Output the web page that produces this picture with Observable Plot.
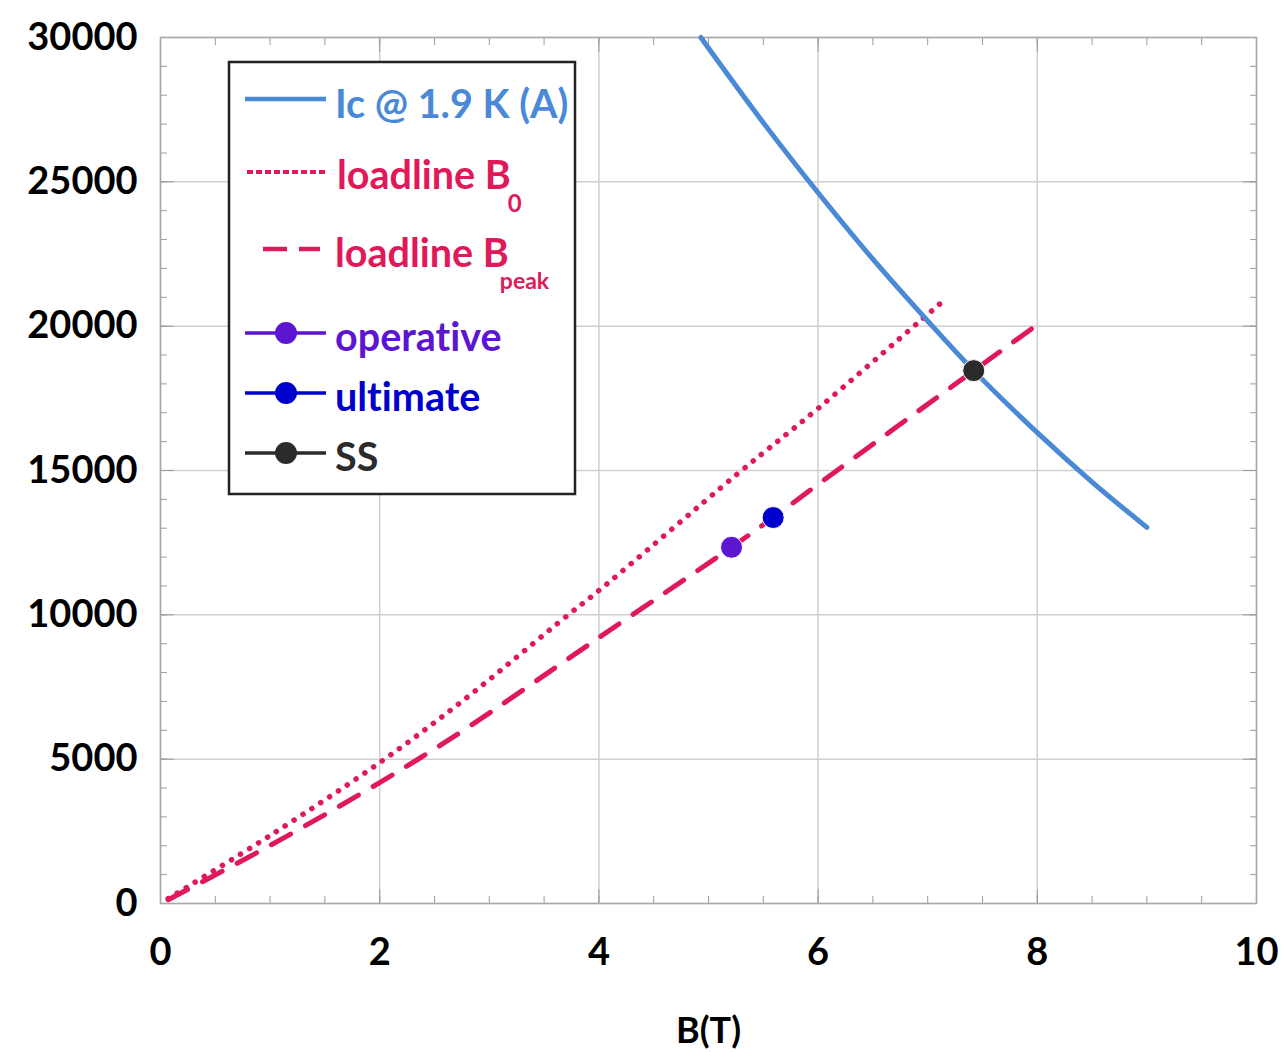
<!DOCTYPE html>
<html><head><meta charset="utf-8">
<script src="https://cdn.jsdelivr.net/npm/d3@7"></script>
<script src="https://cdn.jsdelivr.net/npm/@observablehq/plot@0.6"></script>
<style>
body{margin:0;background:#fff;font-family:Lato,"Open Sans",sans-serif;}
#wrap{position:relative;width:1285px;height:1053px;}
#legend{position:absolute;left:0;top:0;pointer-events:none;font-variant-ligatures:none;font-feature-settings:"liga" 0,"clig" 0;}
</style></head><body><div id="wrap"></div>
<script>
// Ic @ 1.9 K (A)
const icB = [4.93, 5.5, 6.0, 6.5, 7.0, 7.42, 8.0, 8.5, 9.0];
const icI = [30000, 27050, 24620, 22320, 20180, 18460, 16310, 14600, 13030];
// loadline B0 (dotted)
const b0B = [0.07, 1.0, 2.0, 2.76, 3.72, 4.0, 5.27, 6.0, 6.93, 7.18];
const b0I = [170, 2355, 4880, 7030, 10000, 10840, 14900, 17150, 20180, 21000];
// loadline Bpeak (dashed)
const bpB = [0.07, 1.0, 2.0, 2.76, 4.0, 5.21, 5.59, 6.0, 7.42, 8.0];
const bpI = [130, 2010, 4190, 5990, 9210, 12340, 13370, 14520, 18460, 20050];
// points
const ptName = ["operative", "ultimate", "SS"];
const ptB = [5.21, 5.59, 7.42];
const ptI = [12340, 13370, 18460];
// ticks
const xMajor = [0, 2, 4, 6, 8, 10];
const yMajor = [0, 5000, 10000, 15000, 20000, 25000, 30000];
const xMinor = d3.range(0, 10.001, 0.5);
const yMinor = d3.range(0, 30001, 1000);

const cBlue = "#4a89d5", cRed = "#e0195a", cPurple = "#5d16cf", cUlt = "#0000cc", cSS = "#2b2b2b";
const ptColor = [cPurple, cUlt, cSS];

const toRows = (B, I) => B.map((b, i) => ({B: b, I: I[i]}));
const ic = toRows(icB, icI), b0 = toRows(b0B, b0I), bp = toRows(bpB, bpI);
const pts = ptB.map((b, i) => ({B: b, I: ptI[i], name: ptName[i], c: ptColor[i]}));

const tickStroke = "#9c9c9c";
const noText = () => "";
const lblStyle = {fontSize: 38, fontWeight: "bold", fill: "black", label: null};

const chart = Plot.plot({
  width: 1285, height: 1053,
  marginLeft: 160, marginRight: 29, marginTop: 37, marginBottom: 150,
  style: {fontFamily: "Lato, 'Open Sans', sans-serif", background: "white", overflow: "visible"},
  x: {domain: [0, 10]},
  y: {domain: [0, 30000]},
  marks: [
    Plot.gridX(xMajor, {stroke: "#d0d0d0", strokeOpacity: 1, strokeWidth: 1.5}),
    Plot.gridY(yMajor, {stroke: "#d0d0d0", strokeOpacity: 1, strokeWidth: 1.5}),
    // minor inward ticks
    Plot.axisX(xMinor, {anchor: "bottom", tickSize: 7, dy: -7, tickFormat: noText, stroke: tickStroke, label: null}),
    Plot.axisX(xMinor, {anchor: "top", tickSize: 7, dy: 7, tickFormat: noText, stroke: tickStroke, label: null}),
    Plot.axisY(yMinor, {anchor: "left", tickSize: 7, dx: 7, tickFormat: noText, stroke: tickStroke, label: null}),
    Plot.axisY(yMinor, {anchor: "right", tickSize: 7, dx: -7, tickFormat: noText, stroke: tickStroke, label: null}),
    // major inward ticks
    Plot.axisX(xMajor, {anchor: "bottom", tickSize: 14, dy: -14, tickFormat: noText, stroke: tickStroke, label: null}),
    Plot.axisX(xMajor, {anchor: "top", tickSize: 14, dy: 14, tickFormat: noText, stroke: tickStroke, label: null}),
    Plot.axisY(yMajor, {anchor: "left", tickSize: 14, dx: 14, tickFormat: noText, stroke: tickStroke, label: null}),
    Plot.axisY(yMajor, {anchor: "right", tickSize: 14, dx: -14, tickFormat: noText, stroke: tickStroke, label: null}),
    // labels
    Plot.axisX(xMajor, {anchor: "bottom", tickSize: 0, tickPadding: 35, tickFormat: d => String(d), ...lblStyle}),
    Plot.axisY(yMajor, {anchor: "left", tickSize: 0, tickPadding: 23, tickFormat: d => String(d), ...lblStyle}),
    Plot.text(["B(T)"], {frameAnchor: "bottom", dy: 139, fontSize: 36, fontWeight: "bold", fill: "black"}),
    Plot.frame({stroke: "#a8a8a8", strokeWidth: 1.5}),
    // curves
    Plot.line(b0, {x: "B", y: "I", stroke: cRed, strokeWidth: 5.5, strokeDasharray: "0.1 10.5", strokeLinecap: "round", curve: "catmull-rom"}),
    Plot.line(bp, {x: "B", y: "I", stroke: cRed, strokeWidth: 5, strokeDasharray: "22 17", strokeLinecap: "round", curve: "catmull-rom"}),
    Plot.line(ic, {x: "B", y: "I", stroke: cBlue, strokeWidth: 5, strokeLinecap: "round", curve: "catmull-rom"}),
    Plot.dot(pts, {x: "B", y: "I", r: 11, fill: "c", stroke: "white", strokeWidth: 1})
  ]
});
document.getElementById("wrap").appendChild(chart);

// legend
const lg = d3.select("#wrap").append("svg").attr("id", "legend")
  .attr("width", 1285).attr("height", 1053)
  .style("font-family", "Lato, 'Open Sans', sans-serif").style("font-weight", "bold");
lg.append("rect").attr("x", 229).attr("y", 62).attr("width", 346).attr("height", 432)
  .attr("fill", "white").attr("stroke", "#222").attr("stroke-width", 2.5);

const legendRows = [
  {y: 99, tx: 335, ty: 118, color: cBlue, label: "Ic @ 1.9 K (A)", kind: "solid"},
  {y: 172, tx: 337, ty: 189, color: cRed, label: "loadline B", sub: "0", subSize: 24, subDx: -3, subDy: 23, kind: "dotted"},
  {y: 249, tx: 335, ty: 267, color: cRed, label: "loadline B", sub: "peak", subSize: 23, subDx: -9, subDy: 22, kind: "dashed"},
  {y: 333, tx: 335, ty: 351, color: cPurple, label: "operative", kind: "marker"},
  {y: 393, tx: 335, ty: 411, color: cUlt, label: "ultimate", kind: "marker"},
  {y: 453, tx: 335, ty: 471, color: cSS, label: "SS", kind: "marker"}
];
for (const r of legendRows) {
  if (r.kind === "solid") {
    lg.append("line").attr("x1", 245).attr("x2", 326).attr("y1", r.y).attr("y2", r.y)
      .attr("stroke", r.color).attr("stroke-width", 4.5);
  } else if (r.kind === "dotted") {
    lg.append("line").attr("x1", 247).attr("x2", 326).attr("y1", r.y).attr("y2", r.y)
      .attr("stroke", r.color).attr("stroke-width", 4).attr("stroke-dasharray", "6 3");
  } else if (r.kind === "dashed") {
    lg.append("line").attr("x1", 263).attr("x2", 320).attr("y1", r.y).attr("y2", r.y)
      .attr("stroke", r.color).attr("stroke-width", 4.5).attr("stroke-dasharray", "24 12");
  } else {
    lg.append("line").attr("x1", 245).attr("x2", 326).attr("y1", r.y).attr("y2", r.y)
      .attr("stroke", r.color).attr("stroke-width", 3.5);
    lg.append("circle").attr("cx", 286).attr("cy", r.y).attr("r", 11).attr("fill", r.color);
  }
  const t = lg.append("text").attr("x", r.tx).attr("y", r.ty).attr("fill", r.color)
    .attr("font-size", 39.5).style("font-variant-ligatures", "none").text(r.label);
  if (r.sub) {
    t.append("tspan").attr("font-size", r.subSize).attr("dx", r.subDx).attr("dy", r.subDy).text(r.sub);
  }
}
</script>
</body></html>
